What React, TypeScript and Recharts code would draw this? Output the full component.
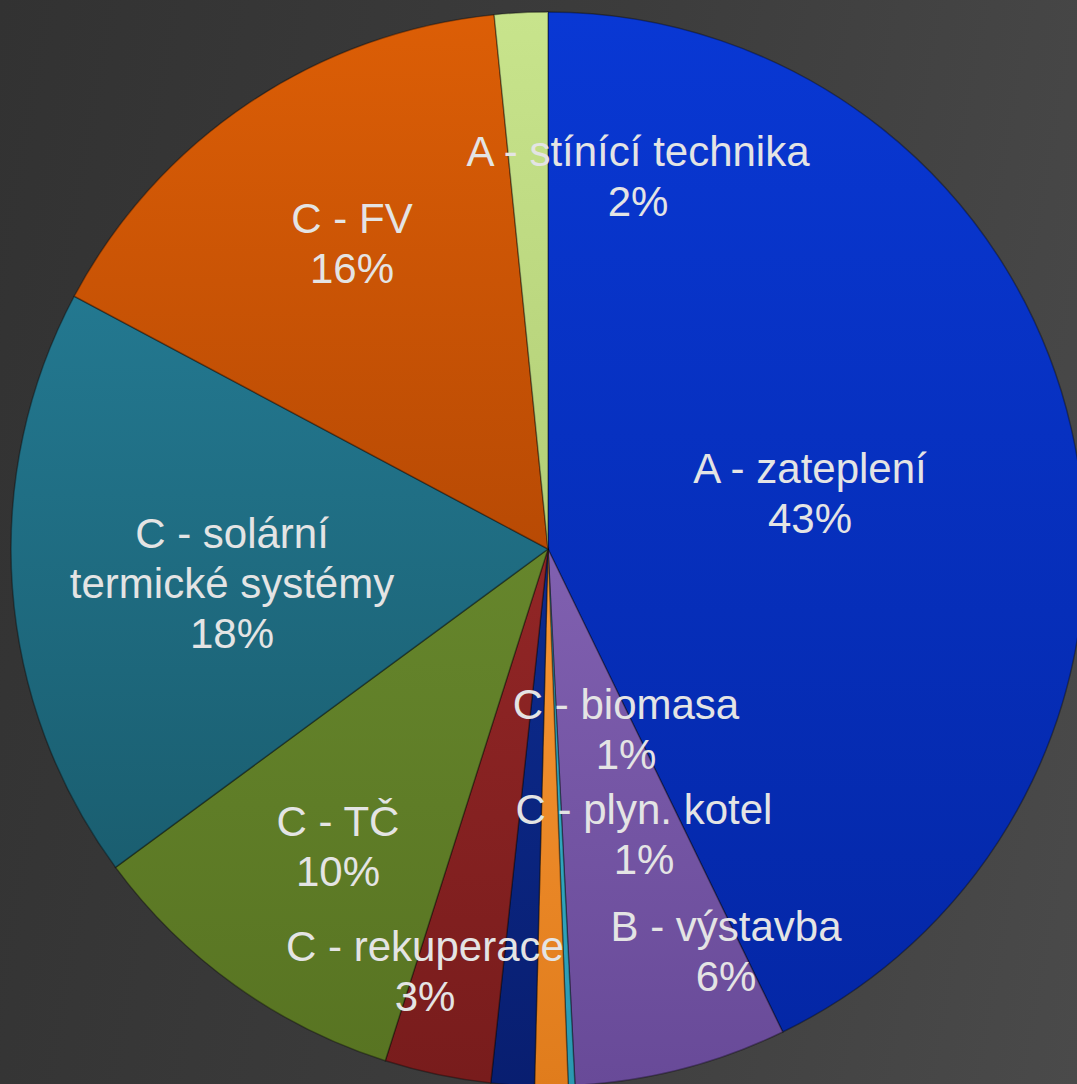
import { PieChart, Pie, Cell } from "recharts"

// slice names, clockwise from 12 o'clock
const categories = [
  "A - zateplení",
  "B - výstavba",
  "C - ostatní",
  "C - plyn. kotel",
  "C - biomasa",
  "C - rekuperace",
  "C - TČ",
  "C - solární termické systémy",
  "C - FV",
  "A - stínící technika",
]

// share in %
const shares = [42.8, 6.4, 0.2, 1.0, 1.3, 3.2, 10.0, 17.9, 15.6, 1.6]

// how each label is broken into lines (null = no label)
const labelLines: (string[] | null)[] = [
  ["A - zateplení"],
  ["B - výstavba"],
  null,
  ["C - plyn. kotel"],
  ["C - biomasa"],
  ["C - rekuperace"],
  ["C - TČ"],
  ["C - solární", "termické systémy"],
  ["C - FV"],
  ["A - stínící technika"],
]

// label block centre, px from the pie centre
const labelOffsets = [
  [262, -56],
  [178, 402],
  [0, 0],
  [96, 285],
  [78, 180],
  [-123, 422],
  [-210, 297],
  [-316, 34],
  [-196, -306],
  [90, -373],
]

// [top, bottom] gradient colours per slice
const sliceColors = [
  ["#0938d4", "#0427a6"],
  ["#8060b0", "#684a98"],
  ["#3ab6ce", "#2a98b0"],
  ["#f79634", "#e07c1c"],
  ["#0d2c90", "#081e70"],
  ["#922626", "#781c1c"],
  ["#66862c", "#587422"],
  ["#237890", "#1a5e70"],
  ["#dc5e06", "#b84a04"],
  ["#c8e48c", "#b2ce76"],
]

const data = categories.map((name, i) => ({ name, value: shares[i] }))

const renderLabel = (props: any) => {
  const { cx, cy, index, percent } = props
  const lines = labelLines[index]
  if (!lines) return null
  const all = [...lines, `${Math.round(percent * 100)}%`]
  const [dx, dy] = labelOffsets[index]
  const lh = 50
  const top = cy + dy - ((all.length - 1) * lh) / 2
  return (
    <text
      key={`lbl-${index}`}
      x={cx + dx}
      y={top}
      fill="#e4e4e4"
      fontSize={42}
      fontFamily="'Liberation Sans', Arial, sans-serif"
      textAnchor="middle"
    >
      {all.map((t, j) => (
        <tspan key={j} x={cx + dx} y={top + j * lh} dominantBaseline="central">
          {t}
        </tspan>
      ))}
    </text>
  )
}

export default function App() {
  return (
    <div
      style={{
        position: "absolute",
        top: 0,
        left: 0,
        width: 1077,
        height: 1084,
        overflow: "hidden",
        background: "linear-gradient(100deg, #323232 0%, #3c3c3c 50%, #4a4a4a 100%)",
      }}
    >
      <PieChart width={1077} height={1084} margin={{ top: 0, right: 0, bottom: 0, left: 0 }}>
        <defs>
          {sliceColors.map(([a, b], i) => (
            <linearGradient key={i} id={`slice-${i}`} x1="0" y1="0" x2="0" y2="1">
              <stop offset="0%" stopColor={a} />
              <stop offset="100%" stopColor={b} />
            </linearGradient>
          ))}
        </defs>
        <Pie
          data={data}
          dataKey="value"
          nameKey="name"
          cx={548}
          cy={549}
          outerRadius={537}
          startAngle={90}
          endAngle={-270}
          stroke="rgba(0,0,0,0.35)"
          strokeWidth={1.5}
          label={renderLabel}
          labelLine={false}
          isAnimationActive={false}
        >
          {data.map((d, i) => (
            <Cell key={d.name} fill={`url(#slice-${i})`} />
          ))}
        </Pie>
      </PieChart>
    </div>
  )
}
